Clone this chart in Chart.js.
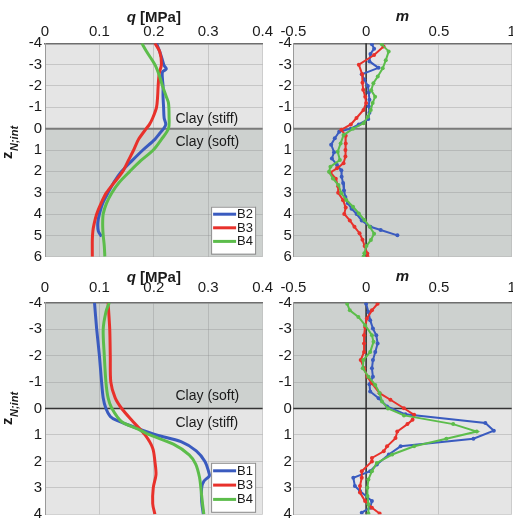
<!DOCTYPE html>
<html>
<head>
<meta charset="utf-8">
<script src="https://cdn.jsdelivr.net/npm/chart.js@4.4.0/dist/chart.umd.min.js"></script>
<style>
  html, body { margin: 0; padding: 0; background: #fff; overflow: hidden; width: 513px; height: 521px; }
  canvas { position: absolute; }
</style>
</head>
<body>
<canvas id="qTop" width="280" height="270" style="left:0;top:0"></canvas>
<canvas id="mTop" width="260" height="270" style="left:263px;top:0"></canvas>
<canvas id="qBot" width="280" height="270" style="left:0;top:260px"></canvas>
<canvas id="mBot" width="260" height="270" style="left:263px;top:260px"></canvas>
<script>
// Tick labels
const zTicksTop = [-4, -3, -2, -1, 0, 1, 2, 3, 4, 5, 6];
const zTicksBot = [-4, -3, -2, -1, 0, 1, 2, 3, 4];
const qTicks = [0, 0.1, 0.2, 0.3, 0.4];
const mTicks = [-0.5, 0, 0.5, 1];

// Top row: q profiles (depth z, q in MPa)
const zQTopB2 = [-4, -3.6, -3.2, -2.95, -2.8, -2.65, -2.3, -2, -1.5, -1, -0.5, -0.2, 0, 0.25, 0.5, 1, 1.5, 2, 2.5, 3, 3.5, 4, 4.4, 4.8, 5.05];
const qTopB2  = [0.205, 0.211, 0.216, 0.219, 0.223, 0.216, 0.216, 0.217, 0.217, 0.218, 0.219, 0.222, 0.218, 0.21, 0.202, 0.18, 0.16, 0.141, 0.127, 0.116, 0.106, 0.1, 0.097, 0.098, 0.104];
const zQTopB3 = [-4, -3.6, -3, -2.6, -2, -1.5, -1, -0.5, -0.2, 0, 0.5, 1, 1.5, 2, 2.5, 3, 3.5, 4, 4.5, 4.8, 5.2, 6];
const qTopB3  = [0.202, 0.211, 0.214, 0.21, 0.208, 0.207, 0.205, 0.198, 0.192, 0.186, 0.172, 0.163, 0.153, 0.143, 0.128, 0.113, 0.103, 0.095, 0.09, 0.088, 0.087, 0.087];
const zQTopB4 = [-4, -3.6, -3, -2.5, -2, -1.5, -1.2, -0.6, 0, 0.5, 1, 1.5, 2, 2.5, 3, 3.5, 4, 4.5, 5, 5.5, 6];
const qTopB4  = [0.178, 0.187, 0.202, 0.21, 0.216, 0.223, 0.227, 0.228, 0.227, 0.214, 0.199, 0.176, 0.156, 0.137, 0.123, 0.113, 0.107, 0.106, 0.107, 0.109, 0.110];

// Top row: m profiles
const zMTopB2 = [-3.95, -3.75, -3.5, -3.15, -2.85, -2.55, -2.3, -2, -1.7, -1.35, -1.05, -0.75, -0.45, -0.2, 0, 0.15, 0.45, 0.75, 1.1, 1.4, 1.7, 1.95, 2.25, 2.55, 2.9, 3.2, 3.5, 3.75, 4, 4.3, 4.6, 4.75, 5];
const mTopB2  = [0.04, 0.055, 0.03, 0.023, 0.085, -0.03, -0.012, 0.012, 0.018, 0.023, 0.018, 0.023, 0.015, -0.05, -0.105, -0.185, -0.215, -0.24, -0.22, -0.235, -0.2, -0.17, -0.168, -0.158, -0.152, -0.142, -0.125, -0.1, -0.065, -0.03, 0.03, 0.1, 0.215];
const zMTopB3 = [-3.85, -3.45, -3.0, -2.55, -2.15, -1.82, -1.5, -1.2, -0.88, -0.5, -0.2, 0.05, 0.33, 0.7, 1.0, 1.3, 1.62, 1.86, 2.05, 2.35, 2.7, 3.0, 3.35, 3.7, 4.0, 4.3, 4.6, 4.9, 5.2, 5.5, 5.85, 6];
const mTopB3  = [0.12, 0.055, -0.05, -0.027, -0.025, -0.02, -0.006, 0, -0.018, -0.066, -0.105, -0.17, -0.14, -0.14, -0.142, -0.142, -0.155, -0.2, -0.245, -0.208, -0.192, -0.192, -0.158, -0.14, -0.15, -0.112, -0.08, -0.045, -0.025, -0.01, 0.008, 0.01];
const zMTopB4 = [-3.95, -3.62, -3.2, -2.83, -2.44, -2.13, -1.8, -1.5, -1.2, -0.88, -0.56, -0.25, 0, 0.3, 0.69, 1.08, 1.47, 1.78, 2.02, 2.33, 2.64, 3.03, 3.34, 3.66, 3.97, 4.28, 4.6, 4.92, 5.22, 5.5, 5.84, 6];
const mTopB4  = [0.108, 0.155, 0.135, 0.114, 0.08, 0.05, 0.035, 0.062, 0.045, 0.032, 0.012, -0.018, -0.09, -0.155, -0.175, -0.195, -0.18, -0.245, -0.255, -0.228, -0.19, -0.17, -0.136, -0.09, -0.05, -0.012, 0.025, 0.055, 0.033, 0.002, -0.012, -0.018];

// Bottom row: q profiles
const zQBotB1 = [-4, -3, -2, -1, -0.4, 0, 0.3, 0.45, 0.75, 1, 1.25, 1.6, 2, 2.4, 2.55, 2.75, 3, 3.5, 4];
const qBotB1  = [0.091, 0.095, 0.1, 0.104, 0.107, 0.112, 0.12, 0.132, 0.17, 0.205, 0.25, 0.278, 0.294, 0.301, 0.302, 0.292, 0.288, 0.288, 0.291];
const zQBotB3 = [-4, -3, -2, -1, -0.4, 0, 0.5, 1, 1.5, 2, 2.5, 3, 3.6, 4];
const qBotB3  = [0.116, 0.119, 0.12, 0.121, 0.129, 0.141, 0.162, 0.184, 0.198, 0.202, 0.204, 0.199, 0.198, 0.202];
const zQBotB4 = [-4, -3.65, -3, -2, -1, -0.4, 0, 0.5, 0.75, 1, 1.35, 1.75, 2.1, 2.6, 3.1, 3.5, 4];
const qBotB4  = [0.118, 0.112, 0.107, 0.109, 0.112, 0.116, 0.123, 0.141, 0.168, 0.193, 0.236, 0.265, 0.277, 0.284, 0.287, 0.289, 0.292];

// Bottom row: m profiles
const zMBotB1 = [-3.96, -3.65, -3.34, -3.02, -2.77, -2.46, -2.14, -1.83, -1.52, -1.2, -0.92, -0.64, -0.39, -0.08, 0.22, 0.55, 0.84, 1.14, 1.43, 1.74, 2.12, 2.37, 2.62, 2.93, 3.12, 3.5, 3.75, 3.94];
const mBotB1  = [0, 0.016, 0.028, 0.047, 0.07, 0.079, 0.063, 0.047, 0.04, 0.047, 0.023, 0.028, 0.086, 0.144, 0.27, 0.819, 0.877, 0.737, 0.237, 0.156, 0.074, 0.028, -0.088, -0.077, -0.042, 0.04, 0.028, -0.03];
const zMBotB3 = [-3.96, -3.71, -3.4, -3.08, -2.77, -2.46, -2.14, -1.83, -1.52, -1.2, -0.95, -0.58, -0.33, -0.01, 0.24, 0.43, 0.59, 0.87, 1.12, 1.43, 1.62, 1.87, 2.0, 2.37, 2.62, 2.93, 3.18, 3.5, 3.75, 3.97];
const mBotB3  = [0.079, 0.04, 0.005, -0.007, -0.014, -0.014, -0.014, -0.037, -0.014, 0.009, 0.04, 0.093, 0.167, 0.26, 0.33, 0.319, 0.284, 0.214, 0.202, 0.144, 0.121, 0.04, 0.04, -0.03, -0.03, -0.042, -0.042, -0.007, 0.04, 0.093];
const zMBotB4 = [-3.96, -3.71, -3.46, -3.15, -2.77, -2.52, -2.14, -1.83, -1.52, -1.2, -0.89, -0.58, -0.26, 0, 0.26, 0.59, 0.87, 1.14, 1.43, 1.74, 2.06, 2.37, 2.68, 3.0, 3.31, 3.62, 3.97];
const mBotB4  = [-0.13, -0.112, -0.053, -0.007, 0.04, 0.051, 0.028, -0.019, -0.023, 0.016, 0.063, 0.093, 0.109, 0.15, 0.26, 0.598, 0.76, 0.551, 0.33, 0.179, 0.074, 0.04, 0.016, 0.009, 0.009, 0.016, 0.016];

const BLUE = '#3a5bbf', RED = '#e8312b', GREEN = '#5cbd4b';
const LIGHT = '#e5e5e5', DARK = '#cdd1cf';
const FONT = 'Liberation Sans, Arial, sans-serif';

function pts(zs, vals) {
  return zs.map((z, i) => ({ x: vals[i], y: z }));
}

function qSet(label, zs, vals, color, order) {
  return { label, data: pts(zs, vals), borderColor: color, backgroundColor: color,
    borderWidth: 3, pointRadius: 0, showLine: true, tension: 0.3, order };
}

function mSet(label, zs, vals, color, order) {
  return { label, data: pts(zs, vals), borderColor: color, backgroundColor: color,
    borderWidth: 2, pointRadius: 2, pointBorderWidth: 0, showLine: true, tension: 0, order };
}

// Backgrounds, zero lines, titles, notes and legend
const decor = {
  id: 'decor',
  beforeDraw(chart, args, o) {
    const { ctx, chartArea: a, scales: { y } } = chart;
    ctx.save();
    o.bands.forEach(b => {
      const y1 = y.getPixelForValue(b.from), y2 = y.getPixelForValue(b.to);
      ctx.fillStyle = b.color;
      ctx.fillRect(a.left, Math.min(y1, y2), a.right - a.left, Math.abs(y2 - y1));
    });
    ctx.restore();
  },
  beforeDatasetsDraw(chart, args, o) {
    const { ctx, chartArea: a, scales: { x, y } } = chart;
    ctx.save();
    const y0 = y.getPixelForValue(0);
    ctx.strokeStyle = o.zeroColor;
    ctx.lineWidth = o.zeroWidth;
    ctx.beginPath(); ctx.moveTo(a.left, y0); ctx.lineTo(a.right, y0); ctx.stroke();
    if (o.vZero) {
      const x0 = x.getPixelForValue(0);
      ctx.strokeStyle = '#2b2b2b';
      ctx.lineWidth = 1.5;
      ctx.beginPath(); ctx.moveTo(x0, a.top); ctx.lineTo(x0, a.bottom); ctx.stroke();
    }
    ctx.restore();
  },
  afterDraw(chart, args, o) {
    const { ctx, chartArea: a, scales: { y } } = chart;
    ctx.save();
    ctx.fillStyle = '#1a1a1a';
    ctx.textBaseline = 'alphabetic';

    // axis title on top
    let w = 0;
    o.title.forEach(p => {
      ctx.font = (p.italic ? 'italic ' : '') + 'bold 15px ' + FONT;
      w += ctx.measureText(p.text).width;
    });
    let tx = (a.left + a.right) / 2 - w / 2;
    o.title.forEach(p => {
      ctx.font = (p.italic ? 'italic ' : '') + 'bold 15px ' + FONT;
      ctx.textAlign = 'left';
      ctx.fillText(p.text, tx, a.top - o.titleGap);
      tx += ctx.measureText(p.text).width;
    });

    // y axis title z_N;int
    if (o.ytitle) {
      ctx.save();
      ctx.translate(o.ytitle.x, o.ytitle.y);
      ctx.rotate(-Math.PI / 2);
      ctx.textAlign = 'left';
      ctx.font = 'bold 15px ' + FONT;
      ctx.fillText('z', 0, 0);
      const zw = ctx.measureText('z').width;
      ctx.font = 'italic bold 11px ' + FONT;
      ctx.fillText('N;int', zw + 0.5, 6);
      ctx.restore();
    }

    // layer notes
    if (o.notes) {
      const y0 = y.getPixelForValue(0);
      ctx.font = '14px ' + FONT;
      ctx.textAlign = 'left';
      ctx.textBaseline = 'middle';
      o.notes.forEach(n => ctx.fillText(n.text, o.noteX, y0 + n.dy));
    }

    // legend box
    if (o.legend) {
      const L = o.legend;
      const bx = a.right - L.right - L.w, by = a.bottom - L.bottom - L.h;
      ctx.fillStyle = '#ffffff';
      ctx.fillRect(bx, by, L.w, L.h);
      ctx.strokeStyle = '#8c8c8c';
      ctx.lineWidth = 1;
      ctx.strokeRect(bx + 0.5, by + 0.5, L.w, L.h);
      ctx.font = '13px ' + FONT;
      ctx.textAlign = 'left';
      ctx.textBaseline = 'middle';
      chart.data.datasets.forEach((ds, i) => {
        const ry = by + L.first + i * L.step;
        ctx.strokeStyle = ds.borderColor;
        ctx.lineWidth = 3;
        ctx.beginPath(); ctx.moveTo(bx + 2, ry); ctx.lineTo(bx + 25, ry); ctx.stroke();
        ctx.fillStyle = '#1a1a1a';
        ctx.fillText(ds.label, bx + 26, ry + 0.5);
      });
    }
    ctx.restore();
  }
};

function panel(id, p) {
  new Chart(document.getElementById(id), {
    type: 'scatter',
    data: { datasets: p.datasets },
    options: {
      responsive: false,
      animation: false,
      events: [],
      layout: { padding: { left: 0, top: 0, right: p.padRight, bottom: p.padBottom } },
      plugins: {
        legend: { display: false },
        tooltip: { enabled: false },
        decor: p.decor
      },
      scales: {
        x: {
          type: 'linear', position: 'top',
          min: p.xTicks[0], max: p.xTicks[p.xTicks.length - 1],
          afterBuildTicks: s => { s.ticks = p.xTicks.map(v => ({ value: v })); },
          afterFit: s => { s.height = p.xAxisH; },
          ticks: { font: { family: FONT, size: 15 }, color: '#1a1a1a', padding: p.xPad,
            maxRotation: 0, autoSkip: false, callback: v => String(v) },
          grid: { color: 'rgba(140,140,140,0.35)', drawTicks: false },
          border: { display: true, color: '#6e6e6e', width: 1.5 }
        },
        y: {
          type: 'linear', reverse: true,
          min: p.zTicks[0], max: p.zTicks[p.zTicks.length - 1],
          afterBuildTicks: s => { s.ticks = p.zTicks.map(v => ({ value: v })); },
          afterFit: s => { s.width = p.yAxisW; },
          ticks: { font: { family: FONT, size: 15 }, color: '#1a1a1a', padding: p.yPad,
            autoSkip: false, callback: v => String(v) },
          grid: { color: 'rgba(140,140,140,0.35)', drawTicks: false },
          border: { display: true, color: '#9a9a9a', width: 1 }
        }
      }
    },
    plugins: [decor]
  });
}

const legendTop = { w: 44, h: 47, right: 7.5, bottom: 3, first: 7.5, step: 13.6 };
const legendBot = { w: 44, h: 49, right: 7.5, bottom: 2.5, first: 8, step: 14.3 };

panel('qTop', {
  zTicks: zTicksTop, xTicks: qTicks, padRight: 17.4, padBottom: 13.3,
  xAxisH: 43.3, yAxisW: 45, xPad: 2.3, yPad: 3,
  datasets: [qSet('B2', zQTopB2, qTopB2, BLUE, 3), qSet('B3', zQTopB3, qTopB3, RED, 2), qSet('B4', zQTopB4, qTopB4, GREEN, 1)],
  decor: {
    bands: [{ from: -4, to: 0, color: LIGHT }, { from: 0, to: 6, color: DARK }],
    zeroColor: '#7a7a7a', zeroWidth: 2,
    title: [{ text: 'q', italic: true }, { text: ' [MPa]' }], titleGap: 21,
    ytitle: { x: 12, y: 159 },
    notes: [{ text: 'Clay (stiff)', dy: -9.5 }, { text: 'Clay (soft)', dy: 13 }], noteX: 175.5,
    legend: legendTop
  }
});

panel('mTop', {
  zTicks: zTicksTop, xTicks: mTicks, padRight: 11.3, padBottom: 13.3,
  xAxisH: 43.3, yAxisW: 30.3, xPad: 2.3, yPad: 1.5,
  datasets: [mSet('B2', zMTopB2, mTopB2, BLUE, 3), mSet('B3', zMTopB3, mTopB3, RED, 2), mSet('B4', zMTopB4, mTopB4, GREEN, 1)],
  decor: {
    bands: [{ from: -4, to: 0, color: LIGHT }, { from: 0, to: 6, color: DARK }],
    zeroColor: '#7a7a7a', zeroWidth: 2, vZero: true,
    title: [{ text: 'm', italic: true }], titleGap: 22
  }
});

panel('qBot', {
  zTicks: zTicksBot, xTicks: qTicks, padRight: 17.4, padBottom: 15.7,
  xAxisH: 42.7, yAxisW: 45, xPad: 5.9, yPad: 3,
  datasets: [qSet('B1', zQBotB1, qBotB1, BLUE, 3), qSet('B3', zQBotB3, qBotB3, RED, 2), qSet('B4', zQBotB4, qBotB4, GREEN, 1)],
  decor: {
    bands: [{ from: -4, to: 0, color: DARK }, { from: 0, to: 4, color: LIGHT }],
    zeroColor: '#333333', zeroWidth: 1.5,
    title: [{ text: 'q', italic: true }, { text: ' [MPa]' }], titleGap: 21,
    ytitle: { x: 12, y: 165 },
    notes: [{ text: 'Clay (soft)', dy: -12 }, { text: 'Clay (stiff)', dy: 14.5 }], noteX: 175.5,
    legend: legendBot
  }
});

panel('mBot', {
  zTicks: zTicksBot, xTicks: mTicks, padRight: 11.3, padBottom: 15.7,
  xAxisH: 42.7, yAxisW: 30.3, xPad: 5.9, yPad: 1.5,
  datasets: [mSet('B1', zMBotB1, mBotB1, BLUE, 3), mSet('B3', zMBotB3, mBotB3, RED, 2), mSet('B4', zMBotB4, mBotB4, GREEN, 1)],
  decor: {
    bands: [{ from: -4, to: 0, color: DARK }, { from: 0, to: 4, color: LIGHT }],
    zeroColor: '#333333', zeroWidth: 1.5, vZero: true,
    title: [{ text: 'm', italic: true }], titleGap: 22
  }
});
</script>
</body>
</html>
